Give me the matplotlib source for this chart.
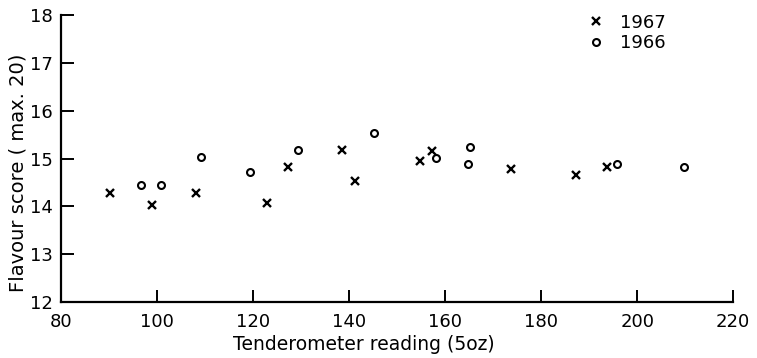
import matplotlib
matplotlib.use("Agg")
import matplotlib.pyplot as plt

# Data
x1967 = [90.1, 98.9, 108.1, 122.9, 127.3, 138.6, 141.3, 154.7, 157.2, 173.8, 187.3, 193.7]
y1967 = [14.29, 14.02, 14.28, 14.07, 14.82, 15.19, 14.53, 14.96, 15.15, 14.78, 14.66, 14.82]
x1966 = [96.7, 100.8, 109.1, 119.3, 129.4, 145.1, 158.1, 165.2, 164.7, 195.7, 209.8]
y1966 = [14.44, 14.44, 15.04, 14.73, 15.19, 15.54, 15.02, 15.24, 14.89, 14.88, 14.82]
xticks = [80, 100, 120, 140, 160, 180, 200, 220]
yticks = [12, 13, 14, 15, 16, 17, 18]

plt.rcParams['font.family'] = ['DejaVu Sans']
fig = plt.figure(figsize=(7.57, 3.58), dpi=100)
ax = fig.add_axes([0.0806, 0.156, 0.888, 0.802])

ax.plot(x1967, y1967, linestyle='none', marker='x', markersize=6, mew=1.7,
        color='black', label='1967', clip_on=False)
ax.plot(x1966, y1966, linestyle='none', marker='o', markersize=5, mew=1.5,
        markerfacecolor='white', color='black', label='1966', clip_on=False)

ax.set_xlim(80, 220)
ax.set_ylim(12, 18)
ax.set_xticks(xticks)
ax.set_yticks(yticks)
ax.tick_params(axis='both', direction='in', length=9, width=1.4, labelsize=13)
ax.tick_params(axis='x', pad=8)
ax.tick_params(axis='y', pad=6)
for s in ['top', 'right']:
    ax.spines[s].set_visible(False)
for s in ['left', 'bottom']:
    ax.spines[s].set_linewidth(1.6)

ax.set_xlabel('Tenderometer reading (5oz)', fontsize=13.5)
ax.xaxis.set_label_coords(0.45, -0.115)
ax.set_ylabel('Flavour score ( max. 20)', fontsize=14)
ax.yaxis.set_label_coords(-0.05, 0.45)

ax.legend(loc='upper left', bbox_to_anchor=(0.775, 1.03), frameon=False,
          fontsize=13, handlelength=0.8, handletextpad=0.9, labelspacing=0.15,
          borderaxespad=0)

fig.savefig('out.png', dpi=100)
